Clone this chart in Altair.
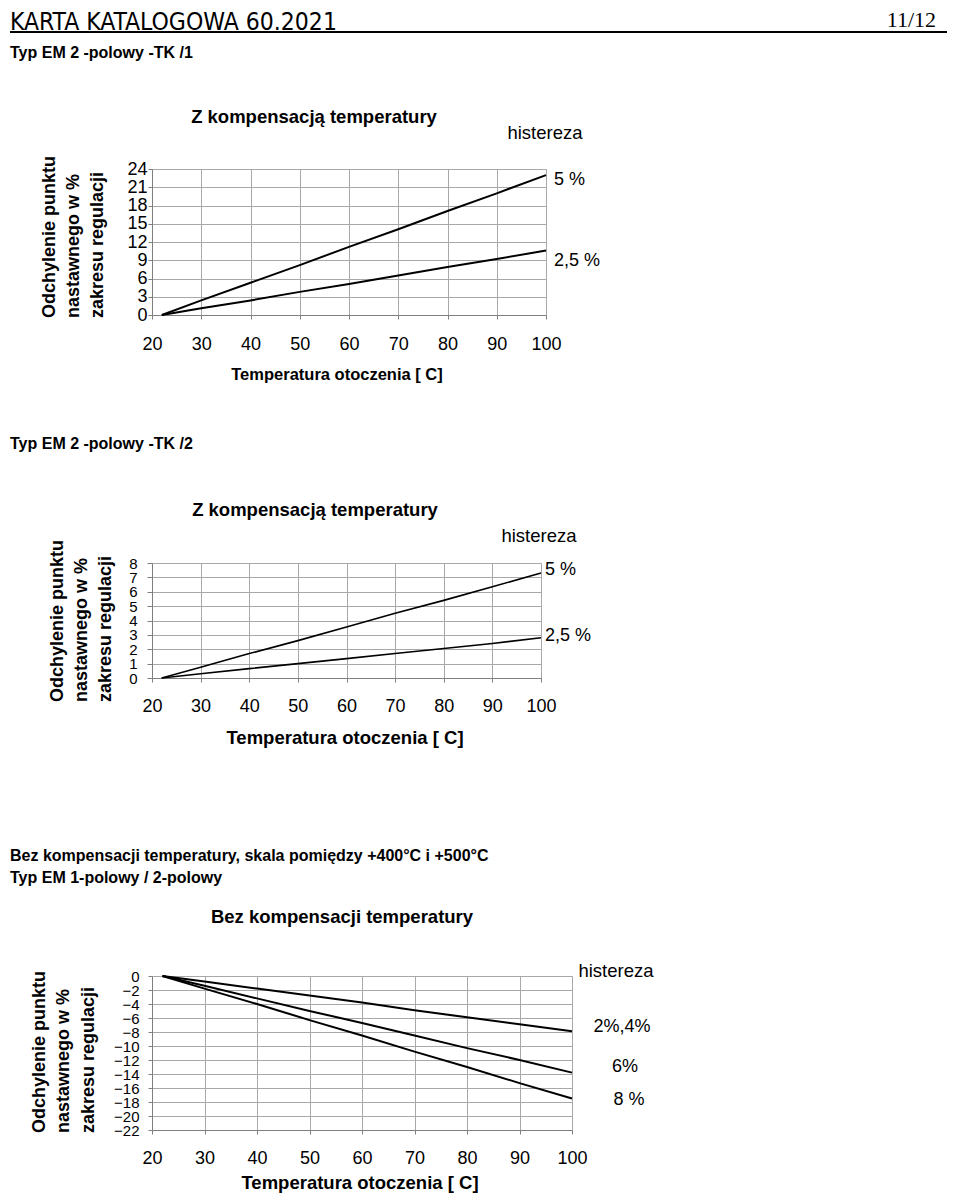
import altair as alt
import pandas as pd

# ---------------- data ----------------
temps = [22, 30, 40, 50, 60, 70, 80, 90, 100]
x_ticks = [20, 30, 40, 50, 60, 70, 80, 90, 100]

# Typ EM 2-polowy -TK /1
tk1_names = ["5 %", "2,5 %"]
tk1_h5 = [0, 2.4, 5.3, 8.2, 11.2, 14.1, 17.1, 20.0, 23.0]
tk1_h25 = [0, 1.1, 2.4, 3.8, 5.1, 6.5, 7.9, 9.2, 10.6]
tk1_yticks = [0, 3, 6, 9, 12, 15, 18, 21, 24]

# Typ EM 2-polowy -TK /2
tk2_names = ["5 %", "2,5 %"]
tk2_h5 = [0, 0.75, 1.7, 2.6, 3.55, 4.5, 5.4, 6.35, 7.3]
tk2_h25 = [0, 0.3, 0.65, 1.0, 1.35, 1.7, 2.05, 2.4, 2.8]
tk2_yticks = [0, 1, 2, 3, 4, 5, 6, 7, 8]

# Bez kompensacji
bk_names = ["2%,4%", "6%", "8 %"]
bk_h24 = [0, -0.8, -1.8, -2.8, -3.8, -4.9, -5.9, -6.9, -7.9]
bk_h6 = [0, -1.4, -3.2, -5.0, -6.7, -8.5, -10.3, -12.0, -13.8]
bk_h8 = [0, -1.8, -4.0, -6.3, -8.5, -10.8, -13.0, -15.3, -17.5]
bk_yticks = [0, -2, -4, -6, -8, -10, -12, -14, -16, -18, -20, -22]

FONT = "Liberation Sans"
GRID = "#a8a8a8"
DOMAIN = "#7f7f7f"
one = pd.DataFrame({"k": [0]})
L = -142  # left page edge relative to the shared plot origin


def long_df(names, series):
    rows = []
    for n, vals in zip(names, series):
        for t, v in zip(temps, vals):
            rows.append({"temp": t, "value": v, "series": n})
    return pd.DataFrame(rows)


def txt(s, x, y, size, weight="normal", align="center", baseline="middle", angle=0, font=FONT):
    props = dict(text=s, fontSize=size, fontWeight=weight, align=align,
                 baseline=baseline, font=font, color="black")
    if angle:
        props["angle"] = angle
    return alt.Chart(one).mark_text(**props).encode(x=alt.value(x), y=alt.value(y))


def frame(y1, y2):
    return alt.Chart(one).mark_rule(color="white", strokeWidth=1).encode(
        x=alt.value(L), y=alt.value(y1), y2=alt.value(y2))


def lines(df, ydomain, yvalues, ylab_size, ytick, ypad, xpad, names, colors, sw):
    xaxis = alt.Axis(values=x_ticks, title=None, grid=True, gridColor=GRID, gridWidth=1,
                     domainColor=DOMAIN, tickColor=DOMAIN, tickSize=4, labelPadding=xpad,
                     labelFont=FONT, labelFontSize=18, labelColor="black",
                     labelFlush=False, labelOverlap=False)
    yaxis = alt.Axis(values=yvalues, title=None, grid=True, gridColor=GRID, gridWidth=1,
                     domainColor=DOMAIN, tickColor=DOMAIN, tickSize=ytick, labelPadding=ypad,
                     labelFont=FONT, labelFontSize=ylab_size, labelColor="black",
                     labelFlush=False, labelOverlap=False)
    return alt.Chart(df).mark_line(strokeWidth=sw).encode(
        x=alt.X("temp:Q", scale=alt.Scale(domain=[20, 100], nice=False, zero=False), axis=xaxis),
        y=alt.Y("value:Q", scale=alt.Scale(domain=ydomain, nice=False, zero=False), axis=yaxis),
        color=alt.Color("series:N", scale=alt.Scale(domain=names, range=colors), legend=None),
    )


ytitle = ["Odchylenie punktu", "nastawnego w %", "zakresu regulacji"]
xtitle = "Temperatura otoczenia [ C]"

# ---------------- panel 1 (origin page 150,168) ----------------
df1 = long_df(tk1_names, [tk1_h5, tk1_h25])
c1 = alt.layer(
    frame(-160, 229),
    alt.Chart(one).mark_rule(color="black", strokeWidth=2).encode(
        x=alt.value(L), x2=alt.value(795), y=alt.value(-137)),
    txt("KARTA KATALOGOWA 60.2021", L, -139, 24.5, align="left", baseline="alphabetic",
        font="'Liberation Sans Narrow', 'Arial Narrow', 'DejaVu Sans Condensed', sans-serif"),
    txt("11/12", 784, -142, 22, align="right", baseline="alphabetic",
        font="'Liberation Serif', 'Times New Roman', serif"),
    txt("Typ EM 2 -polowy -TK /1", L, -116, 16, weight="bold", align="left"),
    lines(df1, [0, 24], tk1_yticks, 18, 4, 1, 16, tk1_names, ["black", "black"], 2),
    txt("Z kompensacją temperatury", 162, -52, 18.5, weight="bold"),
    txt("histereza", 393, -36, 18.5),
    txt("5 %", 402, 11, 18, align="left"),
    txt("2,5 %", 402, 92, 18, align="left"),
    txt(xtitle, 185, 206, 16.5, weight="bold"),
    txt(ytitle[0], -102, 149, 18, weight="bold", align="left", angle=270),
    txt(ytitle[1], -78, 149, 18, weight="bold", align="left", angle=270),
    txt(ytitle[2], -54, 149, 18, weight="bold", align="left", angle=270),
).properties(width=394, height=146)

# ---------------- panel 2 (origin page 150,563) ----------------
df2 = long_df(tk2_names, [tk2_h5, tk2_h25])
c2 = alt.layer(
    frame(-163, 235),
    txt("Typ EM 2 -polowy -TK /2", L, -119, 16, weight="bold", align="left"),
    lines(df2, [0, 8], tk2_yticks, 15, 5, 10, 15, tk2_names, ["black", "#0b0b7a"], 1.6),
    txt("Z kompensacją temperatury", 163, -53, 18.5, weight="bold"),
    txt("histereza", 387, -27, 18.5),
    txt("5 %", 393, 7, 18, align="left"),
    txt("2,5 %", 393, 73, 18, align="left"),
    txt(xtitle, 193, 175, 18.5, weight="bold"),
    txt(ytitle[0], -94, 139, 18, weight="bold", align="left", angle=270),
    txt(ytitle[1], -70, 139, 18, weight="bold", align="left", angle=270),
    txt(ytitle[2], -46, 139, 18, weight="bold", align="left", angle=270),
).properties(width=389, height=115)

# ---------------- panel 3 (origin page 150,976) ----------------
df3 = long_df(bk_names, [bk_h24, bk_h6, bk_h8])
c3 = alt.layer(
    frame(-176, 217),
    txt("Bez kompensacji temperatury, skala pomiędzy +400°C i +500°C", L, -120, 16,
        weight="bold", align="left"),
    txt("Typ EM 1-polowy / 2-polowy", L, -98, 16, weight="bold", align="left"),
    lines(df3, [-22, 0], bk_yticks, 15, 4, 9, 15, bk_names, ["black", "black", "black"], 2),
    txt("Bez kompensacji temperatury", 190, -59, 18.5, weight="bold"),
    txt("histereza", 464, -5, 18.5),
    txt("2%,4%", 470, 51, 18),
    txt("6%", 473, 91, 18),
    txt("8 %", 477, 124, 18),
    txt(xtitle, 208, 207, 18.5, weight="bold"),
    txt(ytitle[0], -112, 157, 18, weight="bold", align="left", angle=270),
    txt(ytitle[1], -88, 157, 18, weight="bold", align="left", angle=270),
    txt(ytitle[2], -63, 157, 18, weight="bold", align="left", angle=270),
).properties(width=420, height=154)

chart = alt.concat(c1, c2, c3, columns=1, spacing=0, align="none").properties(
    padding=0
).configure_view(
    stroke=DOMAIN, strokeWidth=1
).configure(font=FONT)

chart.save("out.html", embed_options={"renderer": "svg", "actions": False})
